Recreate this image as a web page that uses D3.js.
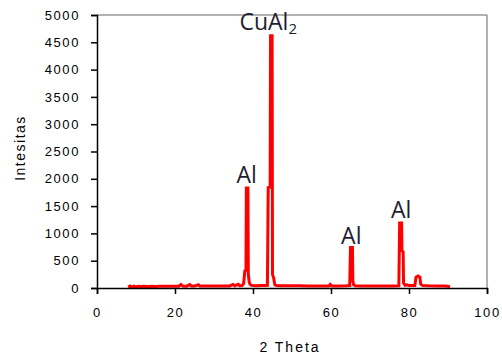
<!DOCTYPE html>
<html><head><meta charset="utf-8">
<script src="https://cdn.jsdelivr.net/npm/d3@7"></script>
<style>
html,body{margin:0;padding:0;background:#fff;}
svg{display:block;}
</style></head>
<body>
<svg id="chart" width="502" height="359"></svg>
<script>
// 2θ values (degrees)
const theta = [8.0,8.5,9.0,9.5,10.0,10.5,11,12,13,14,15,16,17,18,19,20,21,21.5,22,23,23.8,24.2,25,26,26.4,27,28,29,30,31,32,33,34,34.9,35.3,36.2,36.6,37.2,37.6,37.9,38.2,38.3,38.7,38.8,39.0,39.2,39.6,40,41,42,43,43.7,43.9,44.4,44.5,44.9,45.0,45.3,45.6,46,47,48,50,52,54,56,58,59.5,59.8,60.2,62,64,64.8,65.0,65.5,65.6,65.8,66.2,68,70,72,74,76,77.4,77.6,78.1,78.2,78.5,78.6,79,79.5,80,81.5,81.8,82.3,82.8,83.0,83.5,85,87,89,90,90.5];
// Intensity values
const intensity = [15,35,15,35,18,30,28,30,28,30,29,31,30,32,30,33,32,65,35,34,62,36,35,60,36,35,36,35,37,36,38,37,38,65,40,68,42,45,80,310,330,1830,1830,260,120,70,50,45,42,45,48,50,1840,1850,4620,4620,250,180,60,45,42,40,40,39,38,38,37,37,65,38,38,40,45,740,740,130,60,42,38,37,37,36,37,40,1190,1190,680,660,90,50,60,45,45,200,220,200,70,45,40,38,35,32,20];
// Axis ticks
const xTicks = [0,20,40,60,80,100];
const yTicks = [0,500,1000,1500,2000,2500,3000,3500,4000,4500,5000];
// Peak annotations
const peakNames = ["Al","CuAl","Al","Al"];
const peakSubs = ["","2","",""];
const peakTheta = [38.4,43.9,65.2,78.0];
const peakLabelY = [1850,4650,740,1200];

const svg = d3.select("#chart");
const L=97, R=487, T=15, B=288;
const x = d3.scaleLinear().domain([0,100]).range([L,R]);
const y = d3.scaleLinear().domain([0,5000]).range([B,T]);

// frame (top/right gray)
svg.append("line").attr("x1",L).attr("x2",R).attr("y1",T).attr("y2",T).attr("stroke","#999").attr("stroke-width",1.5);
svg.append("line").attr("x1",R).attr("x2",R).attr("y1",T).attr("y2",B).attr("stroke","#999").attr("stroke-width",1.5);

const data = theta.map((t,i)=>[t,intensity[i]]);
svg.append("path").datum(data)
  .attr("fill","none").attr("stroke","#ff0000").attr("stroke-width",3)
  .attr("stroke-linejoin","miter")
  .attr("d", d3.line().x(d=>x(d[0])).y(d=>y(d[1])));

const font = "'Liberation Sans', Arial, sans-serif";
const xAxis = svg.append("g").attr("transform",`translate(0,${B})`)
  .call(d3.axisBottom(x).tickValues(xTicks).tickSize(6).tickPadding(14));
const yAxis = svg.append("g").attr("transform",`translate(${L},0)`)
  .call(d3.axisLeft(y).tickValues(yTicks).tickSize(6).tickPadding(11).tickFormat(d3.format("d")));
[xAxis,yAxis].forEach(a=>{
  a.select(".domain").attr("stroke","#000").attr("stroke-width",1.5);
  a.selectAll(".tick line").attr("stroke","#000").attr("stroke-width",1.5);
  a.selectAll(".tick text").attr("fill","#000").style("font-family",font).style("font-size","13px").style("letter-spacing","1.6px");
});

svg.append("text").attr("x",(L+R)/2-2).attr("y",352).attr("text-anchor","middle")
  .style("font-family",font).style("font-size","14px").style("letter-spacing","2px").text("2 Theta");
svg.append("text").attr("transform","translate(25,148) rotate(-90)").attr("text-anchor","middle")
  .style("font-family",font).style("font-size","14px").style("letter-spacing","1.5px").text("Intesitas");

// peak labels
peakNames.forEach((n,i)=>{
  const t = svg.append("text").attr("x",x(peakTheta[i])).attr("y",y(peakLabelY[i])-4)
    .attr("text-anchor","middle").attr("fill","#1e1e30")
    .style("font-family","'Open Sans', sans-serif").style("font-size","23px").text(n);
  if(peakSubs[i]) t.append("tspan").attr("dy",4).style("font-size","15px").text(peakSubs[i]);
});
</script>
</body></html>
